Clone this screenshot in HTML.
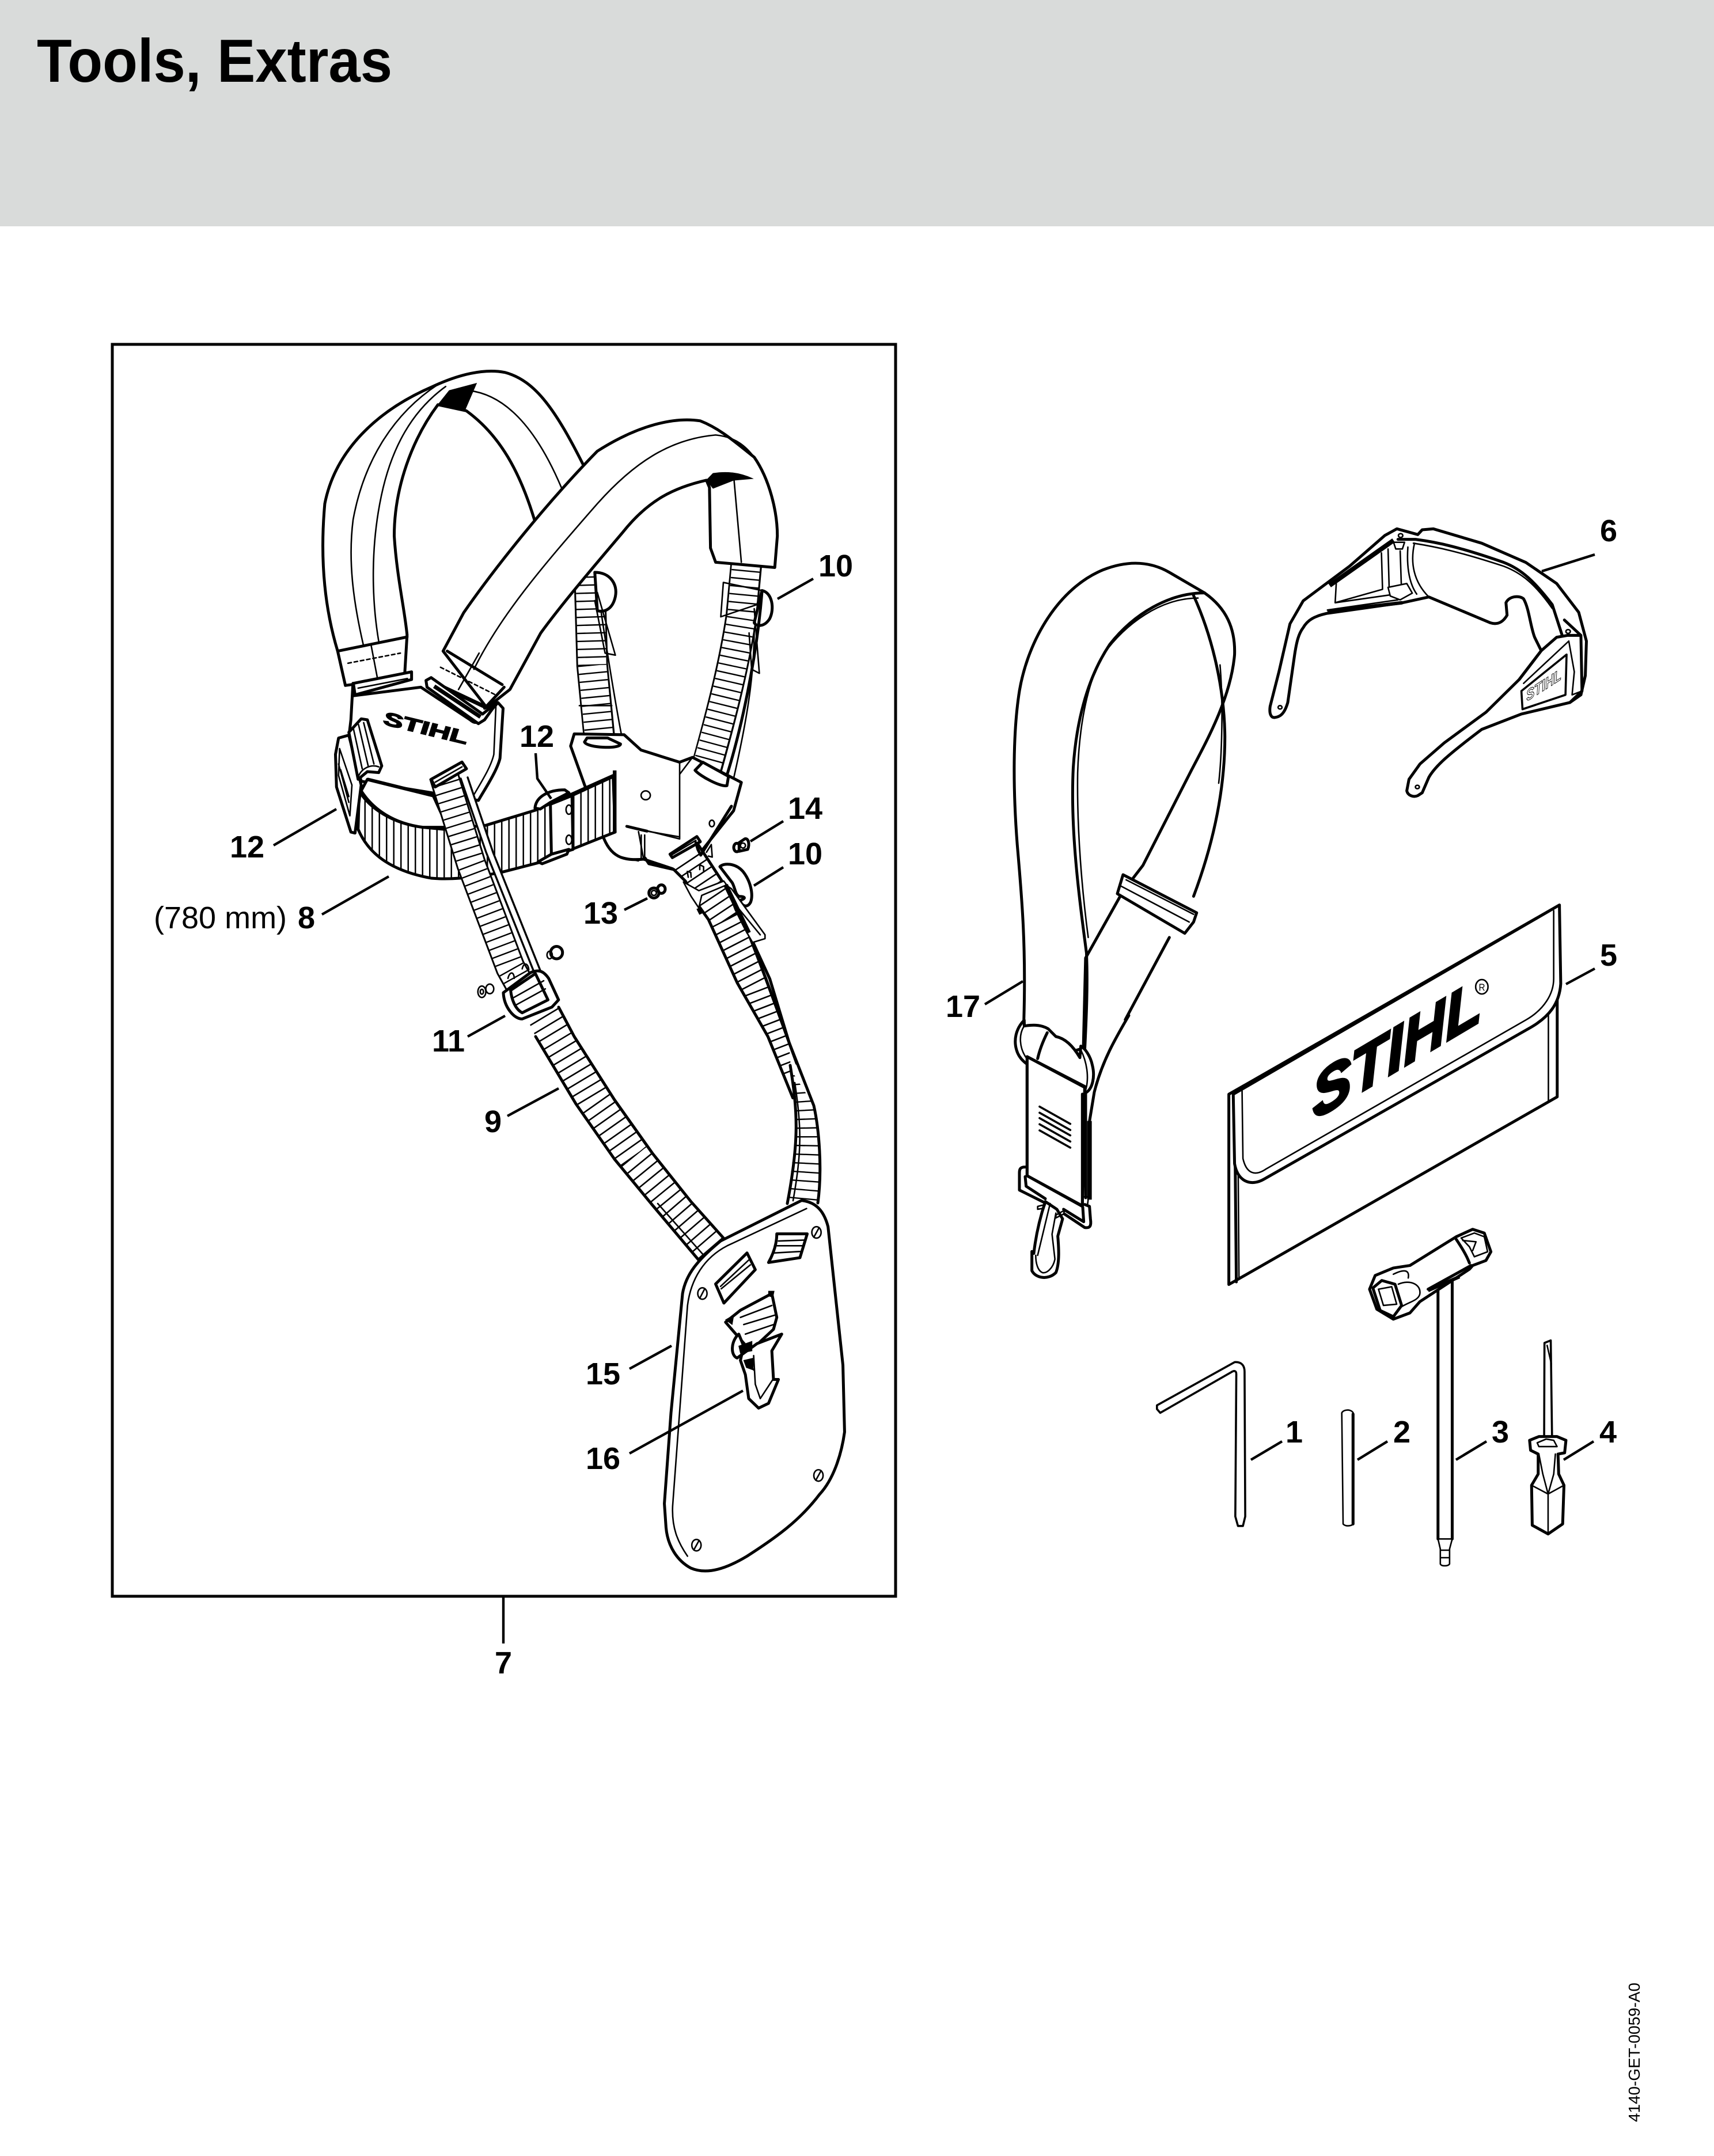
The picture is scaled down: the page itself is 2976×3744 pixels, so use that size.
<!DOCTYPE html>
<html><head><meta charset="utf-8"><style>
html,body{margin:0;padding:0;background:#fff}
svg{display:block}
svg *{vector-effect:non-scaling-stroke}
.o{fill:none;stroke:#000;stroke-width:5;stroke-linejoin:round;stroke-linecap:round}
.w{fill:#fff;stroke:#000;stroke-width:5;stroke-linejoin:round;stroke-linecap:round}
.t{fill:none;stroke:#000;stroke-width:2.6;stroke-linejoin:round;stroke-linecap:round}
.tw{fill:#fff;stroke:#000;stroke-width:2.6;stroke-linejoin:round}
.k{fill:#000;stroke:#000;stroke-width:1}
.l{fill:none;stroke:#000;stroke-width:4.4}
.n{font-family:"Liberation Sans",sans-serif;font-weight:700;font-size:54px;fill:#000}
</style></head><body>
<svg width="2976" height="3744" viewBox="0 0 2976 3744" xmlns="http://www.w3.org/2000/svg">
<defs>
<pattern id="vl" patternUnits="userSpaceOnUse" width="35" height="100"><rect width="35" height="100" fill="#fff"/><rect x="0" width="7" height="100" fill="#000"/></pattern>
<clipPath id="rs"><path d="M262 262L390 190L560 450L650 640L750 900L870 1230L890 1520L760 1200L600 920L450 590L400 520L330 390L270 330Z"/></clipPath>
<clipPath id="rs2"><path d="M1373 1857L1413 1920L1418 1964L1424 2030L1420 2089L1367 2087L1382 1967L1377 1900Z"/></clipPath>
<clipPath id="ls"><path d="M918 1775L970 1749L997 1800L1067 1910L1133 2003L1200 2087L1258 2152L1213 2188L1133 2093L1067 2013L1000 1917L930 1800Z"/></clipPath>
</defs>
<rect width="2976" height="3744" fill="#fff"/>
<rect width="2976" height="393" fill="#d9dbda"/>
<text x="64" y="142" font-family="Liberation Sans,sans-serif" font-weight="700" font-size="106" textLength="617" lengthAdjust="spacingAndGlyphs">Tools, Extras</text>
<text transform="translate(2847,3685) rotate(-90)" font-family="Liberation Sans,sans-serif" font-size="28" textLength="242" lengthAdjust="spacingAndGlyphs">4140-GET-0059-A0</text>

<rect x="195" y="598" width="1360" height="2174" fill="none" stroke="#000" stroke-width="5"/>

<!-- harness upper -->
<g transform="translate(180 580) scale(.8929 .7015)">
 <path class="w" d="M470 870 L455 785 C430 680 420 560 430 420 C450 290 530 190 640 130 C690 100 740 85 780 95 C840 115 880 190 935 330 L840 470 C810 340 770 250 705 190 L650 175 C600 260 565 380 565 500 C570 600 585 680 590 745 L585 850 Z"/>
 <path class="t" d="M505 770 C485 660 475 560 485 460 C505 320 560 200 650 125"/>
 <path class="t" d="M535 762 C520 650 520 520 540 400 C560 280 600 190 665 130"/>
 <path class="t" d="M710 140 C780 150 840 230 890 380"/>
 <path class="k" d="M650 175 L672 140 L725 122 L702 190 Z"/>
 <path class="o" d="M455 785 L590 750"/>
 <path class="t" d="M520 770 L532 850"/>
 <path class="t" stroke-dasharray="6 5" d="M475 815 L577 790"/>
 <path fill="none" stroke="#000" stroke-width="55" d="M945 600 L950 820 L965 1015"/>
 <path fill="none" stroke="#fff" stroke-width="49" d="M945 595 L950 820 L965 1020"/>
 <path fill="none" stroke="#000" stroke-width="49" stroke-dasharray="2.4 11.5" d="M945 600 L950 820 L965 1015"/>
 <path class="t" d="M925 920 L988 920 M960 620 C968 700 990 880 1008 1000"/>
 <path class="w" d="M955 590 C985 590 1000 620 995 650 C990 680 975 690 960 685 Z"/>
 <path class="t" d="M960 640 L995 795 L975 790 L955 660"/>
 <path fill="none" stroke="#000" stroke-width="55" d="M1250 565 L1240 700 C1225 830 1195 970 1170 1085"/>
 <path fill="none" stroke="#fff" stroke-width="49" d="M1250 560 L1240 700 C1225 830 1195 970 1168 1090"/>
 <path fill="none" stroke="#000" stroke-width="49" stroke-dasharray="2.4 11.5" d="M1250 565 L1240 700 C1225 830 1195 970 1170 1085"/>
 <path class="w" d="M1280 635 C1300 640 1305 680 1295 705 C1285 725 1270 725 1265 715 Z"/>
 <path class="t" d="M1205 615 L1280 635 L1270 670 L1200 700 Z M1265 680 L1275 840 L1260 830 L1255 740"/>
 <path class="t" d="M1225 1100 C1250 960 1265 850 1265 730"/>
 <path class="o" d="M1280 640 C1270 800 1240 980 1210 1100"/>
</g>

<!-- mount plate, front pad -->
<g transform="translate(180 580) scale(.8929 .7015)">
 <path class="w" d="M915 990 L1012 992 L1045 1030 L1120 1060 L1145 1048 L1240 1110 L1225 1180 L1150 1300 L1109 1325 L1050 1300 C1010 1305 985 1295 970 1240 L908 1020 Z"/>
 <path class="t" d="M1120 1060 L1120 1250 L1020 1218 M1120 1090 L1145 1048"/>
 <path class="t" d="M1040 1232 L1050 1300"/>
 <ellipse class="t" cx="1054" cy="1142" rx="9" ry="11"/>
 <path class="w" d="M935 1010 C940 1025 1005 1028 1005 1015 L980 1000 L940 1000 Z"/>
 <path class="w" d="M1150 1080 C1160 1095 1200 1122 1212 1118 L1215 1095 L1165 1060 Z"/>
 <path class="w" d="M660 785 L700 690 C760 580 860 420 960 290 C1040 225 1110 205 1160 215 C1200 235 1230 270 1265 305 C1295 360 1310 440 1310 500 L1305 578 L1190 565 L1180 530 L1178 380 L1172 362 C1110 380 1060 410 1010 490 C950 580 890 670 850 740 L790 880 L745 925 Z"/>
 <path class="t" d="M720 830 C770 700 850 580 960 420 C1030 320 1100 260 1190 250 C1230 255 1250 280 1265 305"/>
 <path class="t" d="M1225 350 L1240 565 M730 790 L690 880"/>
 <path class="k" d="M1172 362 L1185 345 C1210 340 1235 342 1262 358 L1225 362 L1185 382 Z"/>
 <path class="o" d="M668 785 L775 868"/>
 <path class="t" stroke-dasharray="6 5" d="M655 825 L760 892"/>
 <path d="M645 865 L745 925" fill="none" stroke="#000" stroke-width="7"/>
</g>

<!-- belt + chest plate -->
<g transform="translate(520 1150) scale(.3571 .3333)">
 <path class="w" d="M260 110 L250 300 L240 390 L300 620 L870 720 C890 680 960 570 975 500 L990 240 L965 210 L900 290 C870 320 850 320 830 300 L590 130 L260 175 Z"/>
 <path class="t" d="M955 230 L945 480 C930 550 880 630 835 715"/>
 <path class="w" d="M262 110 L545 50 L545 90 L270 170 Z"/>
 <path class="t" d="M285 135 L525 85"/>
 <path class="w" d="M615 95 L640 80 L890 270 L960 210 L900 300 L870 320 L620 130 Z"/>
 <path d="M655 125 L880 285" fill="none" stroke="#000" stroke-width="7"/>
 <path class="o" d="M900 240 L995 130"/>
 <path fill="url(#vl)" stroke="#000" stroke-width="5" stroke-linejoin="round" d="M290 670 C340 760 450 840 600 860 L700 870 L905 850 L1150 770 L1525 590 L1535 885 L1160 1045 L980 1095 C860 1120 740 1135 640 1125 C460 1090 340 1010 285 870 Z"/>
 <path class="w" d="M300 670 L330 610 L650 695 L720 860 L600 860 C460 840 360 770 300 670 Z"/>
 <path class="k" d="M1525 565 L1540 565 L1540 885 L1525 880 Z"/>
 <path class="t" d="M1240 740 L1525 600"/>
 <path class="w" d="M1145 760 C1150 700 1210 665 1290 665 L1310 680 L1220 730 L1170 765 Z"/>
 <path class="w" d="M1220 740 L1325 695 L1330 975 L1225 1010 Z"/>
 <path class="w" d="M1160 1040 L1225 1000 L1310 975 L1300 1000 L1180 1050 Z"/>
 <ellipse class="t" cx="1310" cy="768" rx="14" ry="24"/>
 <ellipse class="t" cx="1310" cy="925" rx="14" ry="24"/>
 <path class="w" d="M175 480 L190 395 L240 380 L300 640 L270 890 L250 885 L180 650 Z"/>
 <path class="t" d="M195 450 L255 640 L245 800 L190 590 Z M190 530 L240 730 M200 560 L240 700"/>
 <path class="w" d="M240 365 L300 295 L330 300 L400 540 L385 575 L330 570 L285 610 Z"/>
 <path class="t" d="M262 345 L305 555 M287 325 L335 545 M312 315 L362 530"/>
 <path class="t" d="M285 600 C300 550 350 530 385 545 M360 570 C375 585 400 570 395 545"/>
 <path d="M330 610 L650 695" fill="none" stroke="#000" stroke-width="6"/>
</g>
<text transform="matrix(.97 .235 0 1 666 1258)" font-family="Liberation Sans,sans-serif" font-weight="700" font-style="italic" font-size="33" textLength="150" lengthAdjust="spacingAndGlyphs" style="stroke:#000;stroke-width:1.8px">STIHL</text>

<!-- right long strap -->
<g transform="translate(1080 1400) scale(.3333)">
 <path fill="#fff" d="M262 262L390 190L560 450L650 640L750 900L870 1230L890 1520L760 1200L600 920L450 590L400 520L330 390L270 330Z"/>
 <g clip-path="url(#rs)"><path fill="none" stroke="#000" stroke-width="90" stroke-dasharray="2.6 12.4" d="M320 300 L520 600 L700 950 L880 1420"/></g>
 <path class="o" d="M270 330 L330 390 L400 520 L450 590 L600 920 L760 1200 L890 1520"/>
 <path class="o" d="M390 190 L560 450 L650 640 L750 900 L870 1230"/>
 <path class="t" d="M600 500 L690 750 L860 1210"/>
 <path class="o" d="M660 660 L770 900 L870 1230 L910 1340"/>
 <path class="o" d="M25 105 L130 130 M120 270 L140 300 L270 330"/>
 <path class="t" d="M130 130 L300 160 M100 150 L100 270 L85 285 L0 265 M118 150 L118 270"/>
 <ellipse class="o" cx="598" cy="215" rx="16" ry="22"/>
 <path class="w" d="M610 190 L640 170 C660 165 665 200 655 225 L610 235 Z"/>
 <circle cx="630" cy="205" r="13" fill="#fff" stroke="#000" stroke-width="2.6"/>
 <ellipse class="t" cx="468" cy="90" rx="13" ry="17"/>
 <circle class="o" cx="166" cy="452" r="26"/><circle class="t" cx="166" cy="452" r="13"/>
 <ellipse class="o" cx="205" cy="432" rx="20" ry="22"/>
 <path class="w" d="M510 315 C530 295 590 295 630 340 C670 390 685 460 670 500 C655 530 625 525 615 490 C650 480 640 470 610 470 C590 460 590 430 575 400 Z"/>
 <path class="w" d="M250 250 L390 158 L408 185 L262 268 Z"/>
 <path class="t" d="M262 252 L385 178"/>
 <path class="o" d="M385 190 L395 225 L410 255 L570 0"/>
 <path class="t" d="M440 240 L465 200 L470 265 L450 260"/>
 <path class="t" d="M345 370 L340 340 L358 345 L360 370 M405 330 L405 305 L425 315 L425 340"/>
 <path class="tw" d="M320 395 L400 440 L530 390 L545 410 L415 465 L400 530 L360 470 Z"/>
 <path d="M400 530 L415 560" stroke="#000" stroke-width="9" fill="none"/>
 <path class="tw" d="M540 410 L570 430 L745 670 L745 690 L680 710 L640 640 L590 540 Z"/>
 <path class="t" d="M580 500 L720 670"/>
 <path d="M540 410 L660 660" stroke="#000" stroke-width="8" fill="none"/>
</g>
<g>
 <path fill="#fff" d="M1373 1857L1413 1920L1418 1964L1424 2030L1420 2089L1367 2087L1382 1967L1377 1900Z"/>
 <g clip-path="url(#rs2)"><path fill="none" stroke="#000" stroke-width="90" stroke-dasharray="2.4 13" d="M1395 1850 C1405 1950 1405 2000 1395 2100"/></g>
 <path class="o" d="M1370 1810 L1413 1920 C1422 1960 1428 2030 1420 2089"/>
 <path class="o" d="M1372 1850 C1385 1930 1388 1980 1367 2090"/>
 <path class="t" d="M1380 1880 C1392 1960 1392 2000 1377 2085"/>
</g>

<!-- strap 9 -->
<g>
 <path fill="none" stroke="#000" stroke-width="52" d="M770 1345 L818 1500 L886 1680 L925 1750"/>
 <path fill="none" stroke="#fff" stroke-width="46" d="M770 1345 L818 1500 L886 1680 L925 1750"/>
 <path fill="none" stroke="#000" stroke-width="46" stroke-dasharray="2.4 12.5" d="M770 1345 L818 1500 L886 1680 L925 1750"/>
 <path fill="none" stroke="#fff" stroke-width="12" d="M806 1350 L850 1480 L934 1690"/>
 <path class="o" d="M800 1352 L844 1480 L928 1690" style="stroke-width:3.4"/>
 <path class="o" d="M812 1350 L856 1480 L940 1690" style="stroke-width:3.4"/>
 <path fill="#fff" d="M918 1775L970 1749L997 1800L1067 1910L1133 2003L1200 2087L1258 2152L1213 2188L1133 2093L1067 2013L1000 1917L930 1800Z"/>
 <g clip-path="url(#ls)"><path fill="none" stroke="#000" stroke-width="90" stroke-dasharray="2.6 13.4" d="M944 1765 L1033 1913 L1100 2008 L1167 2090 L1236 2170"/></g>
 <path class="o" d="M930 1800 L1000 1917 L1067 2013 L1133 2093 L1213 2188"/>
 <path class="o" d="M970 1749 L997 1800 L1067 1910 L1133 2003 L1200 2087 L1258 2152"/>
 <path class="t" d="M1142 2090 L1222 2180"/>
 <g transform="translate(520 1150) scale(.3571 .3333)">
  <path class="w" d="M640 610 L790 520 L812 555 L660 650 Z"/>
  <path class="t" d="M660 625 L790 545"/>
 </g>
</g>

<!-- panel etc -->
<g transform="translate(700 1500) scale(.5741 .8292)">
 <path class="w" d="M1205 705 C1240 708 1270 720 1285 760 L1330 1050 L1335 1190 C1325 1240 1300 1290 1260 1320 C1200 1375 1130 1410 1040 1450 C980 1475 920 1490 870 1475 C830 1460 800 1430 795 1390 L790 1340 L810 1150 L845 900 C855 860 890 830 960 790 Z" stroke-width="6"/>
 <path class="t" d="M1220 722 L980 800 C910 825 870 870 860 925 L815 1345 C812 1390 830 1420 860 1450"/>
 <ellipse class="t" cx="905" cy="900" rx="14" ry="12"/><path class="t" d="M897 910 L912 890"/>
 <ellipse class="t" cx="1250" cy="772" rx="14" ry="12"/><path class="t" d="M1242 782 L1258 762"/>
 <ellipse class="t" cx="1256" cy="1281" rx="14" ry="12"/><path class="t" d="M1248 1291 L1264 1271"/>
 <ellipse class="t" cx="887" cy="1427" rx="14" ry="12"/><path class="t" d="M879 1437 L895 1417"/>
 <path class="w" d="M945 880 L1040 815 L1065 850 L970 920 Z"/>
 <path class="t" d="M960 885 L1045 830 M962 890 L1050 840"/>
 <path class="w" d="M1130 775 L1222 775 L1200 825 L1105 835 C1125 810 1130 790 1130 775 Z"/>
 <path class="t" d="M1135 790 L1215 788 M1130 800 L1210 800 M1122 815 L1200 812"/>
 <path class="w" d="M975 960 L1020 935 L1115 900 L1130 950 L1120 975 L1050 1020 Z"/>
 <path class="t" d="M1020 950 L1115 925 M1030 965 L1125 945 M1035 985 L1120 965"/>
 <path class="k" d="M975 955 L1000 945 L995 965 Z M1105 895 L1122 895 L1118 908 L1105 905 Z"/>
 <path class="w" d="M1015 985 C990 1000 990 1030 1010 1035 L1070 1005 L1145 985 L1115 1020 L1120 1080 L1135 1080 L1105 1130 L1075 1140 L1045 1120 L1035 1070 L1020 1040 L1030 1010 Z"/>
 <path class="t" d="M1060 1030 L1065 1090 L1080 1120 L1120 1078 M1040 1040 L1060 1060"/>
 <path class="k" d="M1015 1010 L1055 1000 L1055 1020 L1020 1025 Z M1030 1040 L1060 1035 L1058 1060 L1038 1055 Z"/>
 <path class="w" d="M303 270 L385 228 C410 220 425 225 440 240 L470 285 L450 300 L360 325 C335 325 305 300 303 270 Z"/>
 <path class="w" d="M325 265 L400 230 L438 285 L360 312 C340 305 328 285 325 265 Z"/>
 <path class="t" d="M335 280 L425 245 M343 295 L430 262"/>
 <path class="t" d="M317 240 C322 225 335 225 336 240 M360 220 C365 205 378 208 380 222"/>
 <circle class="t" cx="238" cy="268" r="12"/><ellipse class="t" cx="262" cy="262" rx="12" ry="10"/><circle class="t" cx="238" cy="268" r="5"/>
 <ellipse class="o" cx="464" cy="186" rx="18" ry="13"/><circle class="t" cx="443" cy="191" r="8"/>
</g>

<!-- sling 17 upper -->
<g transform="translate(1640 860) scale(.7653 .8929)">
 <path class="w" d="M180 1020 C185 870 175 780 165 680 C155 570 155 460 170 380 C190 280 260 180 360 145 C420 125 470 130 510 150 L590 190 C640 220 660 260 658 310 C650 390 600 470 560 535 L450 720 L405 770 L320 900 L315 1075 L190 1110 Z"/>
 <path class="o" d="M590 190 C510 190 430 230 375 290 C320 360 298 450 292 530 C285 650 305 780 322 890 C325 950 322 1010 318 1080"/>
 <path class="t" d="M575 200 C490 200 410 250 360 310 C320 370 305 460 302 540 C300 650 312 770 326 860"/>
 <path class="o" d="M565 195 C610 280 635 380 636 470 C636 590 600 700 565 780"/>
 <path class="t" d="M625 330 C632 400 630 500 622 560"/>
 <path class="o" d="M510 860 L410 1020"/>
 <path class="w" d="M405 738 L572 812 L565 830 L545 852 L392 775 Z"/>
 <path class="t" d="M400 760 L555 830 M412 748 L565 815"/>
</g>
<!-- sling 17 lower -->
<g transform="translate(1720 1720) scale(.3333)">
 <path class="o" d="M720 130 C650 250 580 370 540 530 L512 700"/>
 <path class="w" d="M285 1100 C255 1190 235 1280 225 1370 L215 1360 L215 1460 C235 1500 300 1510 340 1470 C360 1420 355 1340 350 1280 L375 1190 L345 1140 Z"/>
 <path class="t" d="M310 1110 L245 1380 M340 1160 L320 1270 L335 1400 C325 1450 290 1475 270 1470 C245 1460 235 1420 235 1380"/>
 <path class="w" d="M175 155 C130 200 120 260 135 310 C145 345 165 365 185 380 L500 530 C530 510 545 450 530 390 C520 340 490 300 470 290 L465 350 C430 290 390 250 340 240 L300 200 C260 175 210 180 175 185 Z"/>
 <path class="t" d="M175 185 C145 230 150 300 185 350"/>
 <path class="t" d="M470 310 C500 370 515 450 495 520"/>
 <path class="w" d="M190 345 L490 505 L478 1125 L190 965 Z" stroke="none"/>
 <path class="o" d="M190 345 L490 500 M190 345 L190 965 L478 1122 L478 540"/>
 <path class="o" d="M295 220 C270 270 255 310 245 355"/>
 <path class="o" d="M495 535 L495 1080"/>
 <path d="M515 680 L515 1090" stroke="#000" stroke-width="8" fill="none"/>
 <path class="t" d="M480 1075 L510 1075 L505 1115"/>
 <path class="o" d="M255 605 L415 695 M255 637 L415 727 M255 665 L415 755 M255 697 L415 787 M255 729 L415 819" style="stroke-width:3.6"/>
 <path class="o" d="M180 920 C155 920 150 930 150 950 L150 1040 L280 1105"/>
 <path class="o" d="M180 970 L185 1020 L285 1085"/>
 <path class="o" d="M385 1165 L490 1235 C520 1240 525 1225 520 1190 L515 1125 L490 1115 M480 1130 L485 1205 L380 1140"/>
 <path class="t" d="M245 1125 L285 1115 L275 1135 L245 1140 Z M340 1170 L385 1145 L380 1165 L340 1185Z"/>
</g>

<!-- pouch -->
<g transform="translate(1640 860) scale(.7653 .8929)">
 <path class="w" d="M645 1165 L645 1535 L1390 1170 L1390 985 L1395 797 Z"/>
 <path class="o" d="M658 1170 L662 1530"/>
 <path class="t" d="M665 1165 L668 1525 M1370 1005 L1370 1178"/>
 <path class="w" d="M655 1165 L1395 797 L1398 950 C1395 990 1370 1015 1330 1035 L725 1330 C695 1345 665 1335 658 1300 Z"/>
 <path class="t" d="M675 1158 L677 1290 C685 1320 705 1325 730 1310 L1320 1020 C1360 1000 1382 970 1382 940 L1382 808"/>
 <circle class="t" cx="1219" cy="956" r="14"/>
 <text x="1212" y="964" font-family="Liberation Sans,sans-serif" font-size="20">R</text>
</g>
<text transform="matrix(.86 -.51 .06 1 2281 1945)" font-family="Liberation Sans,sans-serif" font-weight="700" font-style="italic" font-size="108" textLength="340" lengthAdjust="spacingAndGlyphs" style="stroke:#000;stroke-width:4.5px">STIHL</text>

<!-- glasses -->
<g transform="translate(2190 900) scale(.3827 .3333)">
 <path class="w" d="M615 55 L560 90 L400 250 L190 430 L130 550 L80 800 L40 980 C35 1020 45 1040 60 1038 C85 1035 105 1020 120 960 L150 720 C160 640 170 600 190 570 C210 530 240 510 300 495 L640 440 L760 410 L1040 545 C1070 555 1095 545 1115 505 L1110 440 C1125 405 1170 400 1190 420 C1215 470 1220 560 1240 620 L1270 690 L1170 840 L1020 1010 L830 1170 L720 1280 L670 1360 L660 1420 C665 1445 690 1455 710 1445 L730 1430 L760 1350 C790 1290 850 1230 1000 1100 L1180 1020 L1400 960 L1450 920 L1470 820 L1475 640 L1440 490 L1340 340 L1200 230 L1000 130 L780 55 L730 60 L710 85 Z"/>
 <path class="o" d="M620 110 L700 110 C800 125 900 150 1100 230 C1180 265 1240 330 1320 450 L1365 610"/>
 <path class="t" d="M690 130 C800 150 900 175 1100 250 C1180 285 1240 340 1320 470"/>
 <path class="t" d="M695 130 C675 230 690 330 760 410 M665 150 C660 230 665 330 705 395"/>
 <path d="M310 350 L600 115" stroke="#000" stroke-width="8" fill="none"/>
 <path class="t" d="M340 340 L335 440 L550 370 L545 180 M575 160 L580 360 M630 170 L635 340 M335 440 L580 400 M300 478 L620 425"/>
 <path d="M300 485 L640 440" stroke="#000" stroke-width="6" fill="none"/>
 <path class="tw" d="M575 360 L660 340 L685 390 L630 425 L585 405 Z"/>
 <path class="tw" d="M600 125 L650 125 L640 160 L610 160 Z"/>
 <circle class="t" cx="632" cy="90" r="10"/><circle class="t" cx="85" cy="985" r="9"/><circle class="t" cx="708" cy="1400" r="9"/>
 <path class="o" d="M1170 840 L1270 690 L1340 620 L1390 610 L1450 610 M1375 530 L1450 610 L1455 900 L1400 960"/>
 <circle class="t" cx="1392" cy="590" r="10"/>
 <path class="t" d="M1190 860 L1395 640 L1420 800 L1410 920 L1455 900"/>
 <path class="o" d="M1385 710 L1180 900 L1185 995 L1380 920 Z" style="stroke-width:3.6"/>
</g>
<text transform="matrix(.84 -.54 .1 1 2651 1218)" font-family="Liberation Sans,sans-serif" font-weight="700" font-style="italic" font-size="26" textLength="72" lengthAdjust="spacingAndGlyphs" fill="#fff" stroke="#000" stroke-width="1">STIHL</text>

<!-- tools -->
<g transform="translate(1960 2100) scale(.5741 .4337)">
 <path class="o" d="M85 785 L320 612 C340 610 350 625 350 650 L352 1230 L345 1268 L330 1268 L322 1230 L325 660 C325 645 318 645 310 652 L95 815 L85 800 Z" style="stroke-width:3.6"/>
 <path class="t" d="M644 815 C650 800 675 798 680 820 L680 1260 C670 1270 655 1270 648 1260 Z"/>
 <path class="o" d="M678 820 L678 1260"/>
 <path class="o" d="M935 320 L935 1320 M978 280 L978 1320"/>
 <path class="t" d="M935 1320 L978 1320 L970 1360 L970 1420 C965 1430 945 1430 942 1420 L942 1360 Z M945 1365 L970 1365 M945 1395 L970 1395"/>
 <path class="w" d="M1040 80 L1075 95 L1095 170 L1080 205 L1040 225 L1030 240 L880 370 L850 415 L800 440 L750 400 L728 320 L745 265 L800 235 L850 225 L990 110 Z"/>
 <path class="o" d="M905 320 L1035 225 M990 120 C1005 150 1020 180 1030 215"/>
 <path class="t" d="M1005 115 L1045 95 L1075 110 L1085 170 L1045 190 L1030 150 Z M1010 125 L1050 130 L1040 165"/>
 <path class="w" d="M738 315 L765 285 L805 300 L825 385 L800 430 L760 405 Z"/>
 <path class="t" d="M755 320 L795 310 L810 380 L770 385 Z"/>
 <path class="t" d="M815 300 C850 280 885 300 880 340 C875 365 850 370 825 390 M800 260 C830 240 850 240 845 275"/>
 <path d="M1000 270 L905 325" stroke="#000" stroke-width="6" fill="none"/>
 <path class="w" d="M1257 535 L1276 525 L1280 920 L1256 920 Z" style="stroke-width:3.6"/>
 <path class="t" d="M1265 545 L1278 620"/>
 <path class="w" d="M1212 925 L1240 910 L1295 910 L1322 925 L1318 975 L1298 980 L1300 1060 L1316 1105 L1312 1260 L1268 1300 L1220 1265 L1218 1105 L1238 1060 L1238 980 L1215 965 Z"/>
 <path class="t" d="M1235 935 L1262 920 L1285 925 L1295 950 L1240 950 Z M1268 1140 L1268 1295 M1240 980 L1252 1060 L1268 1140 L1285 1060 L1290 980 M1218 1105 L1268 1140 L1316 1105"/>
</g>

<!-- leaders -->
<path class="l" d="M1350 1040L1412 1005M475 1468L584 1405M559 1588L675 1522M930 1308L933 1352L957 1387M1303 1461L1360 1426M1309 1538L1360 1506M1084 1580L1124 1560M812 1800L877 1764M881 1938L970 1890M1093 2377L1166 2337M1093 2524L1290 2415M874 2772L874 2854M1710 1744L1776 1704M2677 992L2769 963M2719 1709L2769 1682M2172 2535L2226 2503M2357 2535L2409 2503M2528 2535L2581 2503M2715 2535L2767 2503"/>

<!-- labels -->
<g class="n">
<text x="1421" y="1001">10</text>
<text x="399" y="1489">12</text>
<text x="267" y="1612" style="font-weight:400">(780 mm)</text>
<text x="517" y="1612">8</text>
<text x="902" y="1297">12</text>
<text x="1368" y="1422">14</text>
<text x="1368" y="1501">10</text>
<text x="1013" y="1604">13</text>
<text x="750" y="1826">11</text>
<text x="841" y="1966">9</text>
<text x="1017" y="2404">15</text>
<text x="1017" y="2551">16</text>
<text x="859" y="2906">7</text>
<text x="1642" y="1766">17</text>
<text x="2778" y="940">6</text>
<text x="2778" y="1677">5</text>
<text x="2232" y="2505">1</text>
<text x="2419" y="2505">2</text>
<text x="2590" y="2505">3</text>
<text x="2777" y="2505">4</text>
</g>
</svg>
</body></html>
